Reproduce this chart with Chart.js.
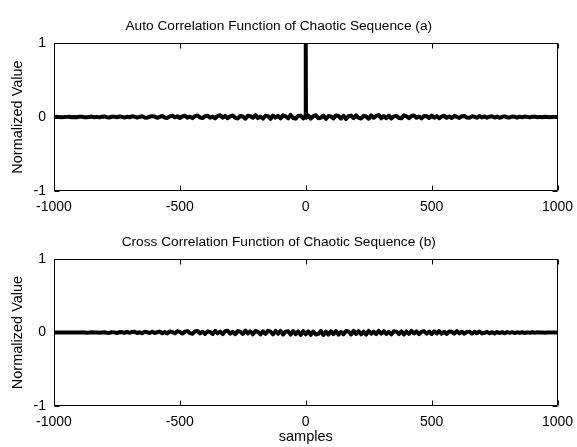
<!DOCTYPE html>
<html>
<head>
<meta charset="utf-8">
<script src="https://cdn.jsdelivr.net/npm/chart.js@4/dist/chart.umd.min.js"></script>
<style>
  html, body { margin: 0; padding: 0; background: #fff; }
  #wrap { position: relative; width: 577px; height: 447px; overflow: hidden; }
  #c1 { position: absolute; left: 0; top: 0; }
  #c2 { position: absolute; left: 0; top: 216px; }
</style>
</head>
<body>
<div id="wrap">
  <canvas id="c1" width="577" height="216"></canvas>
  <canvas id="c2" width="577" height="231"></canvas>
</div>
<script>
// ---- data ----
const titleA = 'Auto Correlation Function of Chaotic Sequence (a)';
const titleB = 'Cross Correlation Function of Chaotic Sequence (b)';
const yLabel = 'Normalized Value';
const xLabel = 'samples';
const xTicks = [-1000, -500, 0, 500, 1000];
const yTicks = [-1, 0, 1];

// sample lags (every 10th lag from -1000 to 1000)
const lags = [];
for (let k = -1000; k <= 1000; k += 10) lags.push(k);

// auto correlation (a)
const autoCorr = [
  0, 0.002, 0.001, -0.003, -0.001, 0.002, 0.004, -0.002, 0.001, -0.003,
  0.003, 0.005, -0.002, -0.004, 0.001, 0.006, -0.003, 0.002, -0.005, 0.004,
  0.007, -0.002, -0.006, 0.003, 0.005, -0.004, 0.008, 0.002, -0.007, 0.004,
  -0.003, 0.009, 0.005, -0.008, 0.002, 0.011, -0.006, -0.009, 0.004, 0.012,
  0.006, -0.01, 0.003, 0.014, -0.007, -0.012, 0.009, 0.016, -0.004, 0.01,
  -0.013, 0.007, 0.018, -0.009, 0.005, -0.015, 0.012, 0.02, -0.006, -0.014,
  0.011, 0.017, -0.01, 0.006, -0.018, 0.013, 0.024, -0.008, 0.015, -0.016,
  0.009, 0.021, -0.012, -0.019, 0.014, 0.007, -0.022, 0.018, 0.011, -0.01,
  0.026, -0.015, 0.008, -0.021, 0.017, 0.012, -0.024, 0.02, -0.009, 0.016,
  -0.019, 0.023, 0.01, -0.017, 0.028, -0.013, -0.022, 0.015, 0.019, -0.02,
  1,
  0.018, -0.021, 0.012, 0.025, -0.016, -0.011, 0.02, -0.024, 0.014, 0.009,
  -0.018, 0.022, 0.013, -0.02, 0.017, -0.026, 0.011, 0.019, -0.014, 0.023,
  -0.012, -0.019, 0.016, 0.008, -0.023, 0.021, -0.01, 0.014, 0.027, -0.017,
  0.012, -0.015, 0.019, -0.021, 0.009, 0.016, -0.012, -0.018, 0.022, 0.01,
  -0.016, 0.013, 0.02, -0.011, 0.007, -0.019, 0.015, 0.011, -0.014, 0.018,
  -0.009, 0.012, -0.016, 0.006, 0.017, -0.011, 0.008, -0.013, 0.014, 0.004,
  -0.012, 0.01, 0.015, -0.008, -0.011, 0.009, 0.005, -0.01, 0.013, -0.006,
  0.008, -0.009, 0.004, 0.011, -0.007, 0.006, -0.01, 0.003, 0.009, -0.005,
  -0.006, 0.007, 0.003, -0.008, 0.005, -0.004, 0.006, 0.002, -0.005, 0.004,
  0.003, -0.004, 0.002, -0.002, 0.003, 0.001, -0.002, 0.002, -0.001, 0
];
// the lags right beside the peak
const peakLags = [-1, 1];
const autoPeakSides = [0.012, -0.01];

// cross correlation (b)
const crossCorr = [
  0, 0.001, 0, -0.001, 0.001, 0, -0.001, 0.002, 0, 0.001,
  -0.001, 0.002, 0.001, -0.002, 0, 0.003, -0.001, 0.002, -0.002, 0.001,
  0.004, -0.003, -0.006, 0.005, 0.002, -0.007, 0.006, 0.003, -0.005, 0.008,
  -0.004, 0.007, 0.009, -0.006, 0.003, -0.009, 0.01, 0.005, -0.008, 0.012,
  -0.007, 0.004, 0.013, -0.01, 0.008, -0.012, 0.015, 0.006, -0.011, 0.017,
  0.009, -0.014, 0.012, 0.019, -0.008, -0.016, 0.014, 0.021, -0.012, 0.01,
  -0.018, 0.016, 0.008, -0.02, 0.022, -0.011, 0.013, -0.021, 0.018, 0.024,
  -0.015, 0.01, -0.023, 0.019, 0.012, -0.02, 0.025, -0.014, 0.017, -0.024,
  0.02, 0.011, -0.026, 0.016, -0.019, 0.023, 0.013, -0.025, 0.021, -0.017,
  0.022, -0.027, 0.012, 0.018, -0.029, 0.02, -0.022, 0.015, -0.031, 0.019,
  -0.024,
  0.017, -0.032, 0.014, -0.026, -0.018, 0.021, -0.034, 0.012, -0.028, 0.016,
  -0.022, 0.019, -0.03, 0.01, -0.025, 0.02, 0.014, -0.027, 0.022, -0.019,
  0.018, -0.024, 0.011, -0.028, 0.021, -0.016, 0.013, -0.022, 0.024, -0.015,
  0.019, -0.02, 0.009, -0.025, 0.017, 0.012, -0.021, 0.016, -0.026, 0.014,
  -0.018, 0.021, -0.012, 0.015, -0.022, 0.011, 0.018, -0.016, 0.013, -0.02,
  0.016, -0.013, 0.02, -0.017, 0.009, -0.019, 0.014, 0.01, -0.015, 0.018,
  -0.011, 0.013, -0.016, 0.008, 0.012, -0.014, 0.01, -0.009, 0.014, -0.012,
  -0.006, 0.009, -0.011, 0.005, -0.013, 0.007, -0.008, 0.004, -0.01, 0.006,
  -0.004, 0.005, -0.007, 0.003, -0.005, 0.004, -0.006, 0.002, -0.004, 0.003,
  -0.002, 0.003, -0.001, 0.002, -0.002, 0.001, 0, 0.001, -0.001, 0
];

// ---- chart setup ----
const FONT = "'Liberation Sans', Arial, Helvetica, sans-serif";

const boxPlugin = {
  id: 'matlabBox',
  afterDatasetsDraw(chart) {
    const ctx = chart.ctx;
    const a = chart.chartArea;
    const xs = chart.scales.x, ys = chart.scales.y;
    ctx.save();
    ctx.strokeStyle = '#000';
    ctx.lineWidth = 1;
    const L = Math.round(a.left) + 0.5, R = Math.round(a.right) - 0.5;
    const T = Math.round(a.top) + 0.5, B = Math.round(a.bottom) - 0.5;
    ctx.beginPath();
    ctx.rect(L, T, R - L, B - T);
    ctx.stroke();
    const tl = 5;
    ctx.beginPath();
    xs.ticks.forEach(t => {
      const px = Math.round(xs.getPixelForValue(t.value)) + 0.5;
      ctx.moveTo(px, B); ctx.lineTo(px, B - tl);
      ctx.moveTo(px, T); ctx.lineTo(px, T + tl);
    });
    ys.ticks.forEach(t => {
      const py = Math.round(ys.getPixelForValue(t.value)) + 0.5;
      ctx.moveTo(L, py); ctx.lineTo(L + tl, py);
      ctx.moveTo(R, py); ctx.lineTo(R - tl, py);
    });
    ctx.stroke();
    ctx.restore();
  }
};

function buildPoints(values, extraLags, extraValues) {
  const pts = lags.map((x, i) => ({ x: x, y: values[i] }));
  extraLags.forEach((x, i) => pts.push({ x: x, y: extraValues[i] }));
  pts.sort((p, q) => p.x - q.x);
  return pts;
}

function makeChart(id, title, pts, xAxisHeight, showXTitle) {
  return new Chart(document.getElementById(id), {
    type: 'line',
    data: {
      datasets: [{
        data: pts,
        borderColor: '#000',
        borderWidth: 4,
        pointRadius: 0,
        tension: 0,
        fill: false,
        borderJoinStyle: 'round',
        borderCapStyle: 'butt'
      }]
    },
    options: {
      responsive: false,
      animation: false,
      events: [],
      layout: { padding: { left: 0, right: 19.5, top: 0, bottom: 0 } },
      plugins: {
        legend: { display: false },
        tooltip: { enabled: false },
        title: {
          display: true,
          text: title,
          color: '#000',
          font: { family: FONT, size: 13.7, weight: 'normal', lineHeight: 1.2 },
          padding: { top: 18, bottom: 8.6 }
        }
      },
      scales: {
        x: {
          type: 'linear',
          min: -1000, max: 1000,
          afterBuildTicks(s) { s.ticks = xTicks.map(v => ({ value: v })); },
          afterFit(s) { s.height = xAxisHeight; s.paddingLeft = 0; s.paddingRight = 0; },
          grid: { display: false, drawTicks: false },
          border: { display: false },
          ticks: {
            color: '#000',
            padding: 8,
            maxRotation: 0,
            autoSkip: false,
            font: { family: FONT, size: 14 },
            callback: v => String(v)
          },
          title: {
            display: showXTitle,
            text: xLabel,
            color: '#000',
            font: { family: FONT, size: 14.5 },
            padding: { top: 0, bottom: 1 }
          }
        },
        y: {
          type: 'linear',
          min: -1, max: 1,
          afterBuildTicks(s) { s.ticks = yTicks.map(v => ({ value: v })); },
          afterFit(s) { s.width = 54; s.paddingTop = 0; s.paddingBottom = 0; },
          grid: { display: false, drawTicks: false },
          border: { display: false },
          ticks: {
            color: '#000',
            padding: 8,
            font: { family: FONT, size: 14 },
            callback: v => String(v)
          },
          title: {
            display: true,
            text: yLabel,
            color: '#000',
            font: { family: FONT, size: 14.5 },
            padding: { top: 9, bottom: 0 }
          }
        }
      }
    },
    plugins: [boxPlugin]
  });
}

makeChart('c1', titleA, buildPoints(autoCorr, peakLags, autoPeakSides), 25, false);
makeChart('c2', titleB, buildPoints(crossCorr, [], []), 41, true);
</script>
</body>
</html>
